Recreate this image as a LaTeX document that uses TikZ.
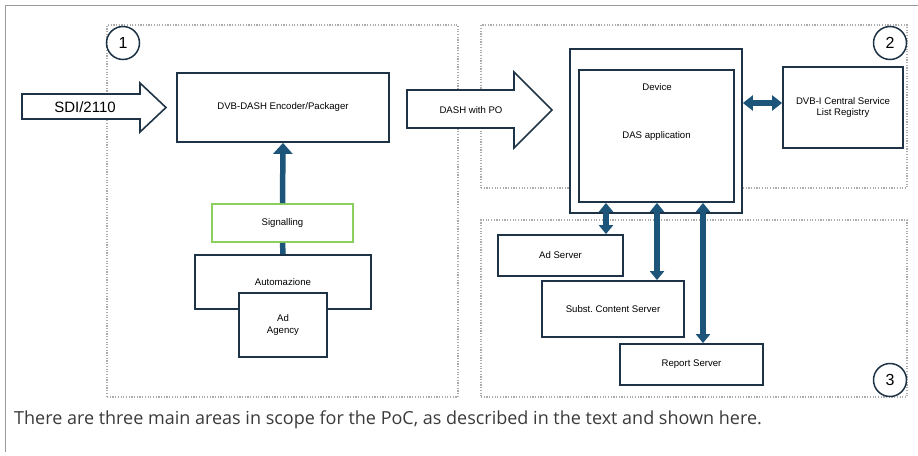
\documentclass[tikz,border=0pt]{standalone}
\usepackage{fontspec}
\setmainfont{Liberation Sans}
\newfontfamily\capfont{Open Sans}
\usetikzlibrary{arrows.meta}
\frenchspacing
\definecolor{navy}{HTML}{1E3446}
\definecolor{flow}{HTML}{1C5579}
\definecolor{sigg}{HTML}{8DCF5F}
\definecolor{dotg}{HTML}{ABABAB}
\definecolor{frameg}{HTML}{9A9A9A}
\definecolor{capc}{HTML}{3A3A3A}
\tikzset{
  txt/.style={font=\fontsize{9.6}{11.5}\selectfont},
  box/.style={draw=navy, line width=1.8pt, fill=white, inner sep=0pt, align=center, txt},
  region/.style={draw=dotg, line width=1.2pt, dash pattern=on 1.2pt off 1.5pt, inner sep=0pt},
  num/.style={draw=navy, line width=1.5pt, circle, minimum size=33pt, inner sep=0pt, font=\fontsize{16}{16}\selectfont},
  dbl/.style={draw=flow, line width=5.5pt, {Triangle[width=14pt,length=9pt]}-{Triangle[width=14pt,length=9pt]}},
  sgl/.style={draw=flow, line width=5.5pt, -{Triangle[width=19pt,length=11pt]}},
  blockarrow/.style={draw=navy, line width=1.6pt, fill=white, line join=miter},
}
\begin{document}
\begin{tikzpicture}[x=1pt, y=-1pt]
\useasboundingbox (0,0) rectangle (918,455);
% frame
\coordinate (ftl) at (5,5);
\coordinate (ftr) at (918,5);
\coordinate (fbl) at (5,452);
\draw[frameg, line width=1pt] (ftr) -- (ftl) -- (fbl);
% regions
\node[region, minimum width=351pt, minimum height=372pt] (r1) at (282.5,211) {};
\node[region, minimum width=426pt, minimum height=163pt] (r2) at (694,106.5) {};
\node[region, minimum width=426pt, minimum height=177pt] (r3) at (694,308.5) {};
\node[num] (c1) at (123,43) {1};
\node[num] (c2) at (890,43) {2};
\node[num] (c3) at (890,380) {3};
% left column
\node[box, minimum width=212pt, minimum height=69pt] (enc) at (283,107.5) {DVB-DASH Encoder/Packager};
\node[box, draw=sigg, minimum width=141pt, minimum height=38pt] (sig) at (282.5,223) {Signalling};
\node[box, minimum width=176pt, minimum height=54pt, text depth=0pt] (auto) at (283,282) {Automazione};
\node[box, minimum width=88pt, minimum height=64pt] (agency) at (283,325) {Ad\\Agency};
\draw[sgl] (sig.north) -- (enc.south);
\draw[draw=flow, line width=5.5pt] (sig.south) -- (auto.north);
% input block arrows
\draw[blockarrow] (22,94) -- (140,94) -- (140,83) -- (166,107.5) -- (140,132) -- (140,119) -- (22,119) -- cycle;
\node[font=\fontsize{15}{15}\selectfont] (sdi) at (85,107) {SDI/2110};
\draw[blockarrow] (407,90) -- (514,90) -- (514,72) -- (552,110) -- (514,148) -- (514,128) -- (407,128) -- cycle;
\node[txt] (dashpo) at (471,110) {DASH with PO};
% device
\node[box, minimum width=172pt, minimum height=164pt] (device) at (656,131) {};
\node[box, minimum width=155pt, minimum height=132pt] (das) at (656.5,136) {DAS application};
\node[txt] (devlabel) at (657,87) {Device};
\node[box, minimum width=120pt, minimum height=81pt] (dvbi) at (843,107.5) {DVB-I Central Service\\List Registry};
\draw[dbl, {Triangle[width=15pt,length=10pt]}-{Triangle[width=15pt,length=10pt]}] (device.east |- 0,103) -- (dvbi.west |- 0,103);
% servers
\node[box, minimum width=125pt, minimum height=41pt] (adsrv) at (560.5,255.5) {Ad Server};
\node[box, minimum width=142pt, minimum height=56pt] (subst) at (613,309) {Subst. Content Server};
\node[box, minimum width=143pt, minimum height=41pt] (report) at (691.5,364.5) {Report Server};
\coordinate (xa) at (606,0);
\coordinate (xb) at (657,0);
\coordinate (xc) at (703,0);
\draw[dbl] (das.south -| xa) -- (adsrv.north -| xa);
\draw[dbl] (das.south -| xb) -- (subst.north -| xb);
\draw[dbl] (das.south -| xc) -- (report.north -| xc);
% caption
\node[anchor=west, inner sep=0pt, text=capc, font=\capfont\fontsize{18}{21}\selectfont] (cap) at (14,420) {There are three main areas in scope for the PoC, as described in the text and shown here.};
\end{tikzpicture}
\end{document}
